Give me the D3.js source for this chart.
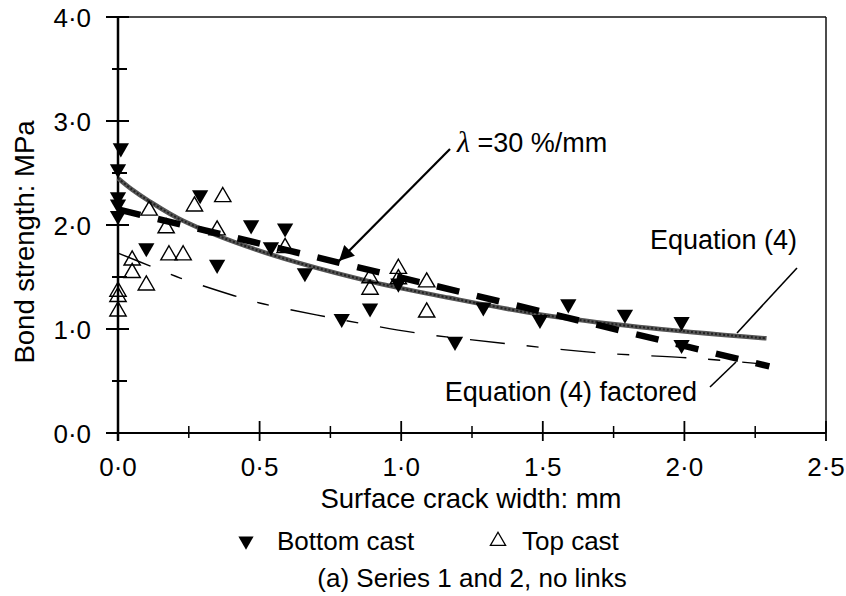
<!DOCTYPE html>
<html>
<head>
<meta charset="utf-8">
<script src="https://cdn.jsdelivr.net/npm/d3@7"></script>
<style>
  body { margin: 0; background: #fff; }
  svg { display: block; font-family: 'Liberation Sans', Arial, sans-serif; }
</style>
</head>
<body>
<svg id="chart" width="846" height="596"></svg>
<script>
// bottom cast specimens (filled down triangles)
const bottomX = [0.01, 0, 0, 0, 0, 0.1, 0.29, 0.35, 0.47, 0.54, 0.59, 0.66, 0.79, 0.89, 0.99, 1.19, 1.29, 1.49, 1.59, 1.79, 1.99, 1.99];
const bottomY = [2.74, 2.54, 2.27, 2.2, 2.09, 1.78, 2.29, 1.62, 2.0, 1.79, 1.97, 1.54, 1.1, 1.2, 1.44, 0.88, 1.21, 1.09, 1.24, 1.14, 1.07, 0.85];

// top cast specimens (open up triangles)
const topX = [0, 0, 0, 0.05, 0.05, 0.1, 0.11, 0.17, 0.18, 0.23, 0.27, 0.37, 0.35, 0.59, 0.89, 0.89, 0.99, 0.99, 1.09, 1.09];
const topY = [1.36, 1.31, 1.17, 1.66, 1.54, 1.42, 2.14, 1.97, 1.71, 1.71, 2.18, 2.27, 1.95, 1.78, 1.49, 1.38, 1.58, 1.48, 1.45, 1.16];

// Equation (4)
const eqX = [0, 0.05, 0.11, 0.23, 0.49, 0.87, 1.17, 1.49, 1.84, 2.29];
const eqY = [2.45, 2.34, 2.23, 2.04, 1.76, 1.47, 1.30, 1.14, 1.02, 0.91];

// Equation (4) factored
const facX = [0, 0.11, 0.22, 0.41, 0.5, 0.73, 1.06, 1.37, 1.7, 2.03, 2.29];
const facY = [1.73, 1.61, 1.49, 1.32, 1.25, 1.12, 0.96, 0.86, 0.77, 0.72, 0.66];

// lambda = 30 %/mm line
const lamX = [0, 2.3];
const lamY = [2.15, 0.64];

const xMajor = [0, 0.5, 1.0, 1.5, 2.0, 2.5];
const xMinor = [0.25, 0.75, 1.25, 1.75, 2.25];
const yMajor = [0, 1, 2, 3, 4];
const yMinor = [0.5, 1.5, 2.5, 3.5];

const svg = d3.select('#chart');

const x = d3.scaleLinear().domain([0, 2.5]).range([118, 826]);
const y = d3.scaleLinear().domain([0, 4]).range([433, 17]);

const fmt = v => d3.format('.1f')(v).replace('.', '\u00b7');
const zip = (xs, ys) => xs.map((v, i) => [v, ys[i]]);

// frame: top and right borders
svg.append('line')
  .attr('x1', x(0)).attr('x2', x(2.5)).attr('y1', y(4)).attr('y2', y(4))
  .attr('stroke', '#111').attr('stroke-width', 1.5);
svg.append('line')
  .attr('x1', x(2.5)).attr('x2', x(2.5)).attr('y1', y(4)).attr('y2', y(0))
  .attr('stroke', '#111').attr('stroke-width', 1.5);

// axes lines
svg.append('line')
  .attr('x1', x(0)).attr('x2', x(0)).attr('y1', y(0) + 8).attr('y2', y(4))
  .attr('stroke', '#000').attr('stroke-width', 2.5);
svg.append('line')
  .attr('x1', x(0) - 12).attr('x2', x(2.5)).attr('y1', y(0)).attr('y2', y(0))
  .attr('stroke', '#000').attr('stroke-width', 2);

// y ticks cross the axis
svg.selectAll('.ytick-major').data(yMajor).enter().append('line')
  .attr('x1', x(0) - 12).attr('x2', x(0) + 11)
  .attr('y1', d => y(d)).attr('y2', d => y(d))
  .attr('stroke', '#000').attr('stroke-width', 2);
svg.selectAll('.ytick-minor').data(yMinor).enter().append('line')
  .attr('x1', x(0) - 6).attr('x2', x(0) + 9)
  .attr('y1', d => y(d)).attr('y2', d => y(d))
  .attr('stroke', '#000').attr('stroke-width', 2);

svg.selectAll('.ylabel').data(yMajor).enter().append('text')
  .attr('x', 91).attr('y', d => y(d) + 10)
  .attr('text-anchor', 'end')
  .style('font-size', '26px')
  .text(fmt);

// x ticks
svg.selectAll('.xtick-major').data(xMajor).enter().append('line')
  .attr('x1', d => x(d)).attr('x2', d => x(d))
  .attr('y1', y(0) - 12).attr('y2', y(0) + 8)
  .attr('stroke', '#000').attr('stroke-width', 1.8);
svg.selectAll('.xtick-minor').data(xMinor).enter().append('line')
  .attr('x1', d => x(d)).attr('x2', d => x(d))
  .attr('y1', y(0) - 7).attr('y2', y(0) + 5)
  .attr('stroke', '#000').attr('stroke-width', 1.5);

svg.selectAll('.xlabel').data(xMajor).enter().append('text')
  .attr('x', d => x(d)).attr('y', 476)
  .attr('text-anchor', 'middle')
  .style('font-size', '26px')
  .text(fmt);

// axis titles
svg.append('text')
  .attr('x', 471).attr('y', 508)
  .attr('text-anchor', 'middle')
  .style('font-size', '27.5px')
  .text('Surface crack width: mm');

svg.append('text')
  .attr('transform', 'translate(34, 242) rotate(-90)')
  .attr('text-anchor', 'middle')
  .style('font-size', '27.5px')
  .text('Bond strength: MPa');

// curves
const line = d3.line()
  .x(d => x(d[0]))
  .y(d => y(d[1]))
  .curve(d3.curveCatmullRom.alpha(0.5));

svg.append('path')
  .datum(zip(facX, facY))
  .attr('d', line)
  .attr('fill', 'none')
  .attr('stroke', '#000')
  .attr('stroke-width', 1.4)
  .attr('stroke-dasharray', '35,22,12,22');

svg.append('path')
  .datum(zip(eqX, eqY))
  .attr('d', line)
  .attr('fill', 'none')
  .attr('stroke', '#555')
  .attr('stroke-width', 4.5);
svg.append('path')
  .datum(zip(eqX, eqY))
  .attr('d', line)
  .attr('fill', 'none')
  .attr('stroke', '#222')
  .attr('stroke-width', 2)
  .attr('stroke-dasharray', '2,2');

svg.append('path')
  .datum(zip(lamX, lamY))
  .attr('d', line)
  .attr('fill', 'none')
  .attr('stroke', '#000')
  .attr('stroke-width', 6.5)
  .attr('stroke-dasharray', '23,18');

// markers
const tri = d3.symbol().type(d3.symbolTriangle).size(115);

svg.selectAll('.bottom').data(zip(bottomX, bottomY)).enter().append('path')
  .attr('d', tri)
  .attr('transform', d => `translate(${x(d[0])}, ${y(d[1])}) rotate(180)`)
  .attr('fill', '#000');

svg.selectAll('.top').data(zip(topX, topY)).enter().append('path')
  .attr('d', tri)
  .attr('transform', d => `translate(${x(d[0])}, ${y(d[1])})`)
  .attr('fill', 'none')
  .attr('stroke', '#000')
  .attr('stroke-width', 1.4);

// annotation: lambda arrow
svg.append('defs').append('marker')
  .attr('id', 'arrow')
  .attr('viewBox', '0 0 10 10')
  .attr('refX', 10).attr('refY', 5)
  .attr('markerWidth', 20).attr('markerHeight', 15)
  .attr('markerUnits', 'userSpaceOnUse')
  .attr('orient', 'auto')
  .append('path')
  .attr('d', 'M0,0 L10,5 L0,10 Z')
  .attr('fill', '#000');

svg.append('line')
  .attr('x1', 450).attr('y1', 149)
  .attr('x2', 339).attr('y2', 261)
  .attr('stroke', '#000').attr('stroke-width', 2.2)
  .attr('marker-end', 'url(#arrow)');

const lam = svg.append('text').attr('x', 457).attr('y', 152).style('font-size', '27px');
lam.append('tspan')
  .style('font-family', "'Liberation Serif', serif")
  .style('font-style', 'italic')
  .style('font-size', '30px')
  .text('\u03bb');
lam.append('tspan').text(' =30 %/mm');

// annotation: Equation (4)
svg.append('text')
  .attr('x', 797).attr('y', 249)
  .attr('text-anchor', 'end')
  .style('font-size', '27px')
  .text('Equation (4)');
svg.append('line')
  .attr('x1', 797).attr('y1', 268).attr('x2', 737).attr('y2', 333)
  .attr('stroke', '#000').attr('stroke-width', 1.6);

// annotation: Equation (4) factored
svg.append('text')
  .attr('x', 697).attr('y', 401)
  .attr('text-anchor', 'end')
  .style('font-size', '27px')
  .text('Equation (4) factored');
svg.append('line')
  .attr('x1', 710).attr('y1', 387).attr('x2', 736).attr('y2', 362)
  .attr('stroke', '#000').attr('stroke-width', 1.6);

// legend
const small = d3.symbol().type(d3.symbolTriangle).size(100);
svg.append('path')
  .attr('d', small)
  .attr('transform', 'translate(246, 541) rotate(180)')
  .attr('fill', '#000');
svg.append('text')
  .attr('x', 277).attr('y', 550)
  .style('font-size', '26px')
  .text('Bottom cast');
svg.append('path')
  .attr('d', small)
  .attr('transform', 'translate(498, 541)')
  .attr('fill', 'none')
  .attr('stroke', '#000')
  .attr('stroke-width', 1.3);
svg.append('text')
  .attr('x', 522).attr('y', 550)
  .style('font-size', '26px')
  .text('Top cast');

// caption
svg.append('text')
  .attr('x', 472).attr('y', 587)
  .attr('text-anchor', 'middle')
  .style('font-size', '26px')
  .text('(a) Series 1 and 2, no links');
</script>
</body>
</html>
